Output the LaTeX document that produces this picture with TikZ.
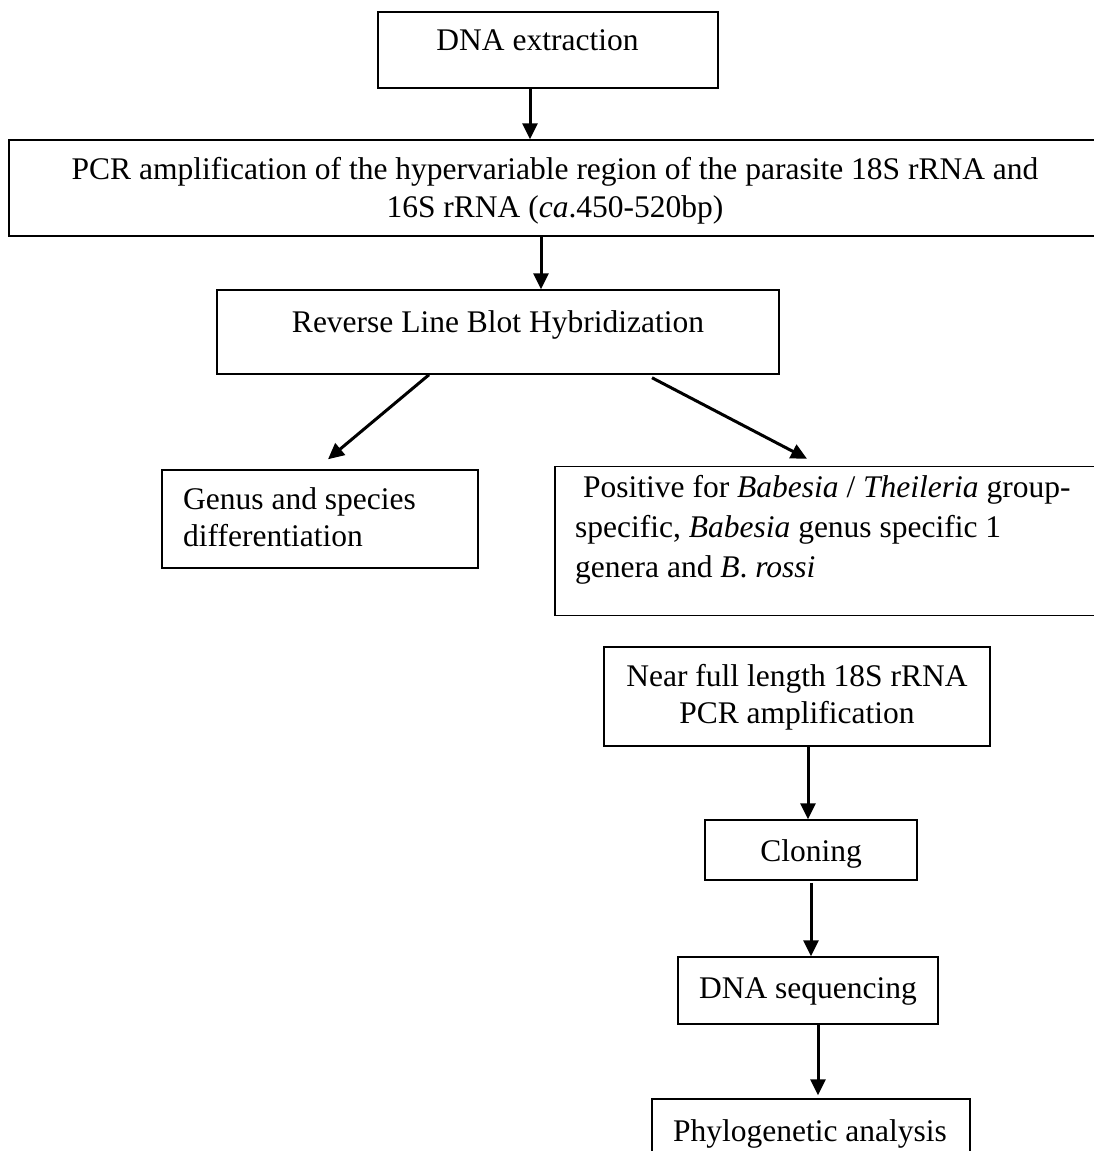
\documentclass[tikz,border=0pt]{standalone}
\usepackage{fontspec}
\setmainfont{Liberation Serif}
\usetikzlibrary{arrows.meta,positioning}

\begin{document}
\begin{tikzpicture}[x=1pt,y=-1pt,
  box/.style={draw=black,line width=1.5pt,inner sep=0pt},
  txt/.style={inner sep=0pt,anchor=base,font=\fontsize{31.5}{38}\selectfont},
  ltxt/.style={txt,anchor=base west},
  arr/.style={-{Triangle[length=16pt,width=15pt]},line width=3pt,black}]
\useasboundingbox (0,0) rectangle (1094,1151);
\clip (0,0) rectangle (1094,1151);
\node [box,minimum width=340,minimum height=76] (dna) at (548,50) {};
\node [txt] (dnat) at (537.5,50) {DNA extraction};
\node [box,minimum width=1111,minimum height=96] (pcr) at (564.5,188) {};
\node [txt] (pcrt1) at (555,179) {PCR amplification of the hypervariable region of the parasite 18S rRNA and};
\node [txt] (pcrt2) at (555,217) {16S rRNA (\textit{ca}.450-520bp)};
\node [box,minimum width=562,minimum height=84] (rlb) at (498,332) {};
\node [txt] (rlbt) at (498,332) {Reverse Line Blot Hybridization};
\node [box,minimum width=316,minimum height=98] (genus) at (320,519) {};
\node [ltxt] (genust1) at (183,509) {Genus and species};
\node [ltxt] (genust2) at (183,546) {differentiation};
\node [box,minimum width=566,minimum height=149] (pos) at (838,541) {};
\node [ltxt] (post1) at (583,497) {Positive for \textit{Babesia} / \textit{Theileria} group-};
\node [ltxt] (post2) at (575,537) {specific, \textit{Babesia} genus specific 1};
\node [ltxt] (post3) at (575,577) {genera and \textit{B}. \textit{rossi}};
\node [box,minimum width=386,minimum height=99] (near) at (797,696.5) {};
\node [txt] (neart1) at (797,686) {Near full length 18S rRNA};
\node [txt] (neart2) at (797,723) {PCR amplification};
\node [box,minimum width=212,minimum height=60] (clon) at (811,850) {};
\node [txt] (clont) at (811,861) {Cloning};
\node [box,minimum width=260,minimum height=67] (seq) at (808,990.5) {};
\node [txt] (seqt) at (808,998) {DNA sequencing};
\node [box,minimum width=318,minimum height=81] (phy) at (811,1139.5) {};
\node [txt] (phyt) at (810,1141) {Phylogenetic analysis};
\coordinate (a1) at ([xshift=-18pt]dna.south);
\draw [arr] (a1) -- (a1 |- pcr.north);
\coordinate (a2) at ([xshift=43pt]rlb.north);
\draw [arr] (a2 |- pcr.south) -- (a2);
\draw [arr] ([xshift=-69pt]rlb.south) -- ([xshift=8pt,yshift=10pt]genus.north);
\draw [arr] ([xshift=154pt,yshift=-3pt]rlb.south) -- ([xshift=-31pt,yshift=7pt]pos.north);
\coordinate (a3) at ([xshift=11pt]near.south);
\draw [arr] (a3) -- (a3 |- clon.north);
\draw [arr] ([yshift=-2pt]clon.south) -- (clon.south |- seq.north);
\coordinate (a4) at ([xshift=10pt]seq.south);
\draw [arr] (a4) -- ([yshift=3pt]a4 |- phy.north);
\end{tikzpicture}
\end{document}
